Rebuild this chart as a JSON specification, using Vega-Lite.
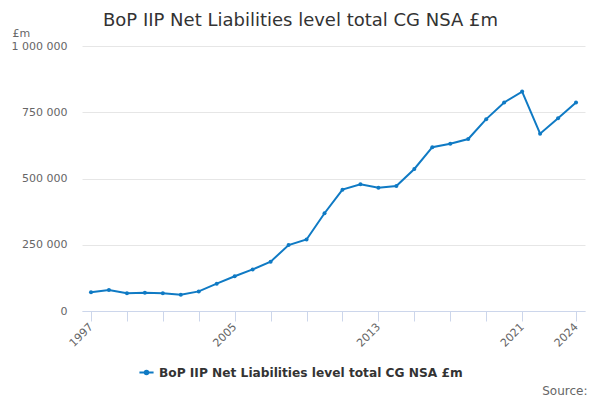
{
  "$schema": "https://vega.github.io/schema/vega-lite/v6.json",
  "autosize": "none",
  "width": 503,
  "height": 265,
  "padding": {"left": 82, "top": 46, "right": 15, "bottom": 89},
  "background": "white",
  "config": {
    "font": "DejaVu Sans",
    "view": {"stroke": null}
  },
  "title": {
    "text": "BoP IIP Net Liabilities level total CG NSA £m",
    "fontSize": 18,
    "fontWeight": "normal",
    "color": "#333333",
    "anchor": "middle",
    "dx": -33,
    "offset": -3
  },
  "data": {
    "values": [
      {"year": 1997, "value": 70600, "series": "BoP IIP Net Liabilities level total CG NSA £m"},
      {"year": 1998, "value": 79000, "series": "BoP IIP Net Liabilities level total CG NSA £m"},
      {"year": 1999, "value": 66700, "series": "BoP IIP Net Liabilities level total CG NSA £m"},
      {"year": 2000, "value": 69000, "series": "BoP IIP Net Liabilities level total CG NSA £m"},
      {"year": 2001, "value": 66700, "series": "BoP IIP Net Liabilities level total CG NSA £m"},
      {"year": 2002, "value": 61600, "series": "BoP IIP Net Liabilities level total CG NSA £m"},
      {"year": 2003, "value": 74000, "series": "BoP IIP Net Liabilities level total CG NSA £m"},
      {"year": 2004, "value": 103000, "series": "BoP IIP Net Liabilities level total CG NSA £m"},
      {"year": 2005, "value": 131000, "series": "BoP IIP Net Liabilities level total CG NSA £m"},
      {"year": 2006, "value": 157000, "series": "BoP IIP Net Liabilities level total CG NSA £m"},
      {"year": 2007, "value": 186000, "series": "BoP IIP Net Liabilities level total CG NSA £m"},
      {"year": 2008, "value": 249000, "series": "BoP IIP Net Liabilities level total CG NSA £m"},
      {"year": 2009, "value": 270000, "series": "BoP IIP Net Liabilities level total CG NSA £m"},
      {"year": 2010, "value": 369000, "series": "BoP IIP Net Liabilities level total CG NSA £m"},
      {"year": 2011, "value": 458000, "series": "BoP IIP Net Liabilities level total CG NSA £m"},
      {"year": 2012, "value": 478000, "series": "BoP IIP Net Liabilities level total CG NSA £m"},
      {"year": 2013, "value": 465000, "series": "BoP IIP Net Liabilities level total CG NSA £m"},
      {"year": 2014, "value": 472000, "series": "BoP IIP Net Liabilities level total CG NSA £m"},
      {"year": 2015, "value": 536000, "series": "BoP IIP Net Liabilities level total CG NSA £m"},
      {"year": 2016, "value": 618000, "series": "BoP IIP Net Liabilities level total CG NSA £m"},
      {"year": 2017, "value": 631000, "series": "BoP IIP Net Liabilities level total CG NSA £m"},
      {"year": 2018, "value": 649000, "series": "BoP IIP Net Liabilities level total CG NSA £m"},
      {"year": 2019, "value": 724000, "series": "BoP IIP Net Liabilities level total CG NSA £m"},
      {"year": 2020, "value": 787000, "series": "BoP IIP Net Liabilities level total CG NSA £m"},
      {"year": 2021, "value": 828000, "series": "BoP IIP Net Liabilities level total CG NSA £m"},
      {"year": 2022, "value": 669000, "series": "BoP IIP Net Liabilities level total CG NSA £m"},
      {"year": 2023, "value": 727000, "series": "BoP IIP Net Liabilities level total CG NSA £m"},
      {"year": 2024, "value": 787000, "series": "BoP IIP Net Liabilities level total CG NSA £m"}
    ]
  },
  "mark": {
    "type": "line",
    "strokeWidth": 2,
    "point": {"filled": true, "size": 16}
  },
  "encoding": {
    "x": {
      "field": "year",
      "type": "quantitative",
      "scale": {"domain": [1996.5, 2024.5], "nice": false, "zero": false},
      "axis": {
        "values": [1997, 1999, 2001, 2003, 2005, 2007, 2009, 2011, 2013, 2015, 2017, 2019, 2021, 2024],
        "labelExpr": "indexof([1997, 2005, 2013, 2021, 2024], datum.value) >= 0 ? datum.value + '' : ''",
        "labelAngle": -45,
        "labelAlign": "right",
        "labelBaseline": "middle",
        "labelFontSize": 11,
        "labelColor": "#666666",
        "labelPadding": 4,
        "labelOverlap": false,
        "labelFlush": false,
        "domainColor": "#ccd6eb",
        "tickColor": "#ccd6eb",
        "tickSize": 10,
        "grid": false,
        "title": "Source:",
        "titleFontSize": 12,
        "titleFontWeight": "normal",
        "titleColor": "#666666",
        "titleAnchor": "end",
        "titleAlign": "right",
        "titleX": 505,
        "titleY": 86,
        "titleBaseline": "bottom"
      }
    },
    "y": {
      "field": "value",
      "type": "quantitative",
      "scale": {"domain": [0, 1000000], "nice": false},
      "axis": {
        "values": [0, 250000, 500000, 750000, 1000000],
        "labelExpr": "replace(format(datum.value, ','), /,/g, ' ')",
        "labelFontSize": 11,
        "labelColor": "#666666",
        "labelPadding": 15,
        "domain": false,
        "ticks": false,
        "gridColor": "#e6e6e6",
        "title": "£m",
        "titleAngle": 0,
        "titleFontSize": 11,
        "titleFontWeight": "normal",
        "titleColor": "#666666",
        "titleAlign": "left",
        "titleBaseline": "bottom",
        "titleX": -70,
        "titleY": -8
      }
    },
    "color": {
      "field": "series",
      "type": "nominal",
      "scale": {"range": ["#0f7ac4"]},
      "legend": {
        "title": null,
        "orient": "none",
        "legendX": 56,
        "legendY": 318,
        "symbolType": "M-1,0H1M-0.25,0a0.25,0.25 0 1,0 0.5,0a0.25,0.25 0 1,0 -0.5,0",
        "symbolSize": 200,
        "symbolStrokeWidth": 2,
        "symbolFillColor": "#0f7ac4",
        "labelFontSize": 12.2,
        "labelFontWeight": "bold",
        "labelColor": "#333333",
        "labelLimit": 400
      }
    }
  }
}
